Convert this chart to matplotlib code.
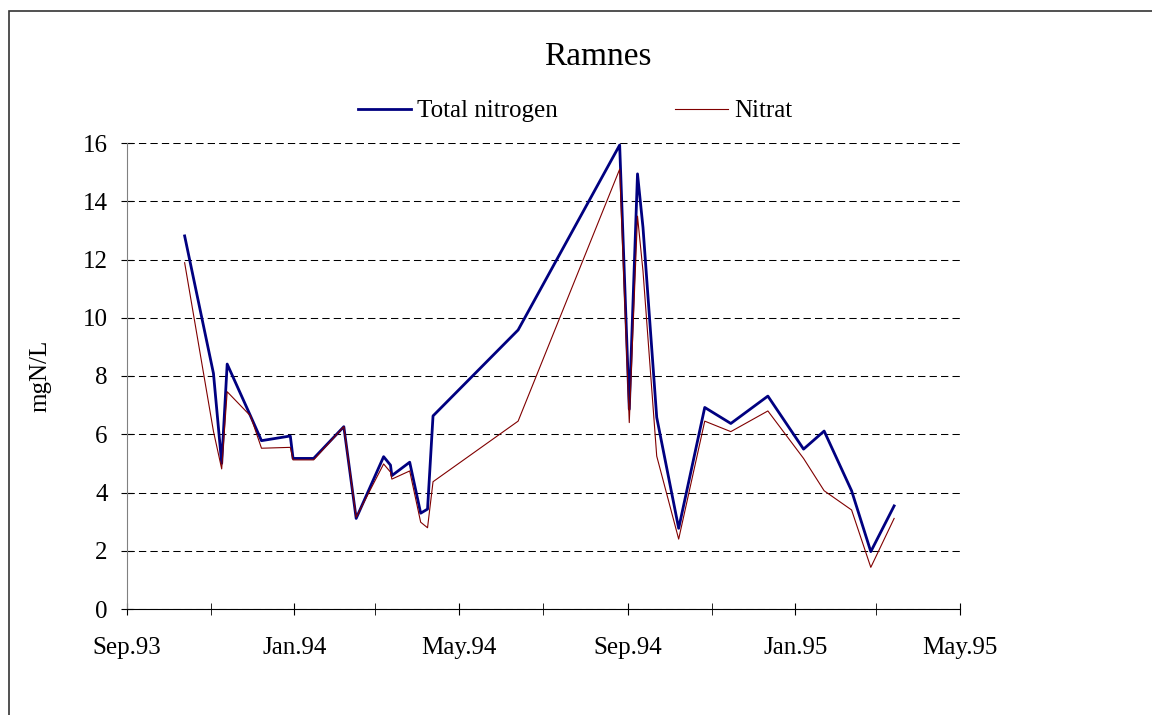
import matplotlib
matplotlib.use('Agg')
import matplotlib.pyplot as plt
import matplotlib.dates as mdates
from matplotlib.patches import Rectangle
import pandas as pd

# sampling dates and values
dates = ['1993-10-13', '1993-11-03', '1993-11-09', '1993-11-13', '1993-11-30',
         '1993-12-08', '1993-12-29', '1993-12-31', '1994-01-15', '1994-02-06',
         '1994-02-15', '1994-03-07', '1994-03-12', '1994-03-13', '1994-03-26',
         '1994-04-03', '1994-04-08', '1994-04-12', '1994-06-13', '1994-08-26',
         '1994-09-02', '1994-09-08', '1994-09-12', '1994-09-22', '1994-10-08',
         '1994-10-27', '1994-11-15', '1994-12-12', '1995-01-07', '1995-01-22',
         '1995-02-11', '1995-02-25', '1995-03-14']
total_n = [12.81, 8.09, 5.00, 8.41, 6.63, 5.78, 5.94, 5.17, 5.17, 6.26,
           3.11, 5.23, 4.94, 4.58, 5.04, 3.29, 3.43, 6.63, 9.58, 15.93,
           6.86, 14.94, 13.1, 6.58, 2.77, 6.92, 6.37, 7.31, 5.49, 6.11,
           4.06, 1.97, 3.54]
nitrat = [11.89, 6.1, 4.81, 7.46, 6.63, 5.52, 5.55, 5.12, 5.12, 6.26,
          3.15, 4.98, 4.7, 4.46, 4.74, 2.98, 2.79, 4.37, 6.45, 15.1,
          6.40, 13.49, 11.6, 5.25, 2.40, 6.45, 6.09, 6.80, 5.17, 4.06,
          3.40, 1.43, 3.11]
x = pd.to_datetime(dates)

plt.rcParams['font.family'] = ['Liberation Serif', 'DejaVu Serif']

fig = plt.figure(figsize=(11.52, 7.15), dpi=100)
ax = fig.add_axes([127/1152, 106/715, 833/1152, 466/715])

ax.plot(x, total_n, color='#000080', lw=2.0, label='Total nitrogen')
ax.plot(x, nitrat, color='#800000', lw=0.8, label='Nitrat')

ax.set_ylim(0, 16)
ax.set_yticks(range(0, 17, 2))
ax.set_xlim(pd.Timestamp('1993-09-01'), pd.Timestamp('1995-05-01'))
ax.xaxis.set_major_locator(mdates.MonthLocator(bymonth=[1, 5, 9]))
ax.xaxis.set_minor_locator(mdates.MonthLocator(bymonth=[3, 7, 11]))
ax.xaxis.set_major_formatter(mdates.DateFormatter('%b.%y'))

ax.grid(axis='y', color='black', lw=0.75, ls=(0, (7, 4)))
ax.set_axisbelow(True)
for s in ['top', 'right']:
    ax.spines[s].set_visible(False)
ax.spines['left'].set_color('#808080')
ax.spines['bottom'].set_color('black')
ax.tick_params(axis='both', which='both', direction='inout', length=8, labelsize=18)
ax.tick_params(axis='x', pad=16)
ax.tick_params(axis='y', pad=10)

fig.text(598/1152, 1 - 57/715, 'Ramnes', fontsize=24, ha='center', va='center')
fig.text(40/1152, 1 - 376/715, 'mgN/L', fontsize=18, rotation=90, ha='center', va='center')
fig.legend(loc='center', bbox_to_anchor=(575/1152, 1 - 111/715), ncol=2, frameon=False,
           fontsize=18, handlelength=2.1, handletextpad=0.25, columnspacing=4.7)

# outer frame like the original sheet
fig.add_artist(Rectangle((9/1152, -0.1), 1.2, 1.1 - 11/715, transform=fig.transFigure,
                         fill=False, ec='#333333', lw=1.2))

fig.savefig('out.png', dpi=100)
